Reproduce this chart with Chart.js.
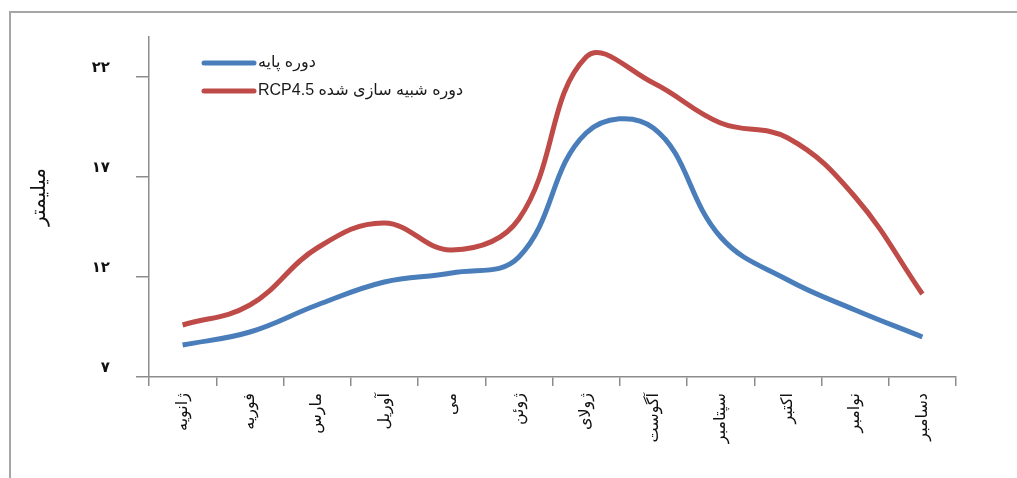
<!DOCTYPE html>
<html>
<head>
<meta charset="utf-8">
<script src="https://cdn.jsdelivr.net/npm/chart.js@4/dist/chart.umd.min.js"></script>
<style>
  html, body { margin: 0; padding: 0; background: #fff; }
  #wrap { width: 1017px; height: 478px; position: relative; }
</style>
</head>
<body>
<div id="wrap"><canvas id="chart" width="1017" height="478"></canvas></div>
<script>
// months (Persian names)
const months = ['ژانویه', 'فوریه', 'مارس', 'آوریل', 'می', 'ژوئن', 'ژولای', 'آگوست', 'سپتامبر', 'اکتبر', 'نوامبر', 'دسامبر'];
const baseLabel = 'دوره پایه';
const rcpLabel = 'RCP4.5 دوره شبیه سازی شده';
const baseValues = [8.6, 9.25, 10.6, 11.75, 12.2, 13.0, 19.2, 19.45, 14.0, 11.85, 10.35, 9.0];
const rcpValues = [9.6, 10.6, 13.45, 14.7, 13.35, 14.9, 23.0, 21.7, 19.7, 18.95, 16.0, 11.15];
const yTicks = [7, 12, 17, 22];
const yTickLabels = ['۷', '۱۲', '۱۷', '۲۲'];
const yTitle = 'میلیمتر';

const axisGrey = '#8c8c8c';
const arabicFont = "'DejaVu Sans', 'Liberation Sans', sans-serif";
const legendFont = "'Liberation Sans', 'DejaVu Sans', sans-serif";

// frame, y title and the in-plot legend
const decor = {
    id: 'decor',
    beforeDraw(chart) {
        const ctx = chart.ctx;
        ctx.save();
        ctx.strokeStyle = '#a6a6a6';
        ctx.lineWidth = 2;
        ctx.beginPath();
        ctx.moveTo(10, 478);
        ctx.lineTo(10, 12);
        ctx.lineTo(1017, 12);
        ctx.stroke();
        ctx.restore();
    },
    afterDraw(chart) {
        const ctx = chart.ctx;
        ctx.save();
        ctx.fillStyle = '#111';
        ctx.font = '20px ' + arabicFont;
        ctx.textAlign = 'center';
        ctx.textBaseline = 'middle';
        ctx.translate(40, 197);
        ctx.rotate(-Math.PI / 2);
        ctx.fillText(yTitle, 0, 0);
        ctx.restore();

        ctx.save();
        ctx.font = '16px ' + legendFont;
        ctx.textBaseline = 'middle';
        ctx.lineCap = 'round';
        chart.data.datasets.forEach((ds, i) => {
            const y = 63 + i * 28;
            ctx.strokeStyle = ds.borderColor;
            ctx.lineWidth = 5;
            ctx.beginPath();
            ctx.moveTo(204, y);
            ctx.lineTo(254, y);
            ctx.stroke();
            ctx.fillStyle = '#1a1a1a';
            ctx.fillText(ds.label, 258, y);
        });
        ctx.restore();
    }
};

new Chart(document.getElementById('chart'), {
    type: 'line',
    data: {
        labels: months,
        datasets: [
            {
                label: baseLabel,
                data: baseValues,
                borderColor: '#4a7ebb',
                borderWidth: 5,
                tension: 0.4,
                pointRadius: 0,
                fill: false
            },
            {
                label: rcpLabel,
                data: rcpValues,
                borderColor: '#be4b48',
                borderWidth: 5,
                tension: 0.4,
                pointRadius: 0,
                fill: false
            }
        ]
    },
    options: {
        responsive: false,
        devicePixelRatio: 1,
        animation: false,
        layout: { padding: { top: 37, right: 61, bottom: 0, left: 0 } },
        plugins: { legend: { display: false }, tooltip: { enabled: false } },
        scales: {
            x: {
                offset: true,
                grid: {
                    offset: true,
                    drawOnChartArea: false,
                    drawTicks: true,
                    tickLength: 9,
                    color: axisGrey,
                    lineWidth: 1.5
                },
                border: { color: axisGrey, width: 1.5 },
                ticks: {
                    minRotation: 90,
                    maxRotation: 90,
                    autoSkip: false,
                    padding: 7,
                    color: '#111',
                    font: { family: arabicFont, size: 16 }
                },
                afterFit(scale) { scale.height = 101; }
            },
            y: {
                min: 7,
                max: 24,
                afterBuildTicks(scale) {
                    scale.ticks = yTicks.map(v => ({ value: v }));
                },
                grid: {
                    drawOnChartArea: false,
                    drawTicks: true,
                    tickLength: 13,
                    color: axisGrey,
                    lineWidth: 1.5
                },
                border: { color: axisGrey, width: 1.5 },
                ticks: {
                    padding: 26,
                    color: '#111',
                    font: { family: arabicFont, size: 15, weight: 'bold' },
                    callback(value) {
                        const i = yTicks.indexOf(value);
                        return i < 0 ? '' : [yTickLabels[i], ''];
                    }
                },
                afterFit(scale) {
                    scale.width = 149;
                    scale.paddingTop = 0;
                    scale.paddingBottom = 0;
                }
            }
        }
    },
    plugins: [decor]
});
</script>
</body>
</html>
